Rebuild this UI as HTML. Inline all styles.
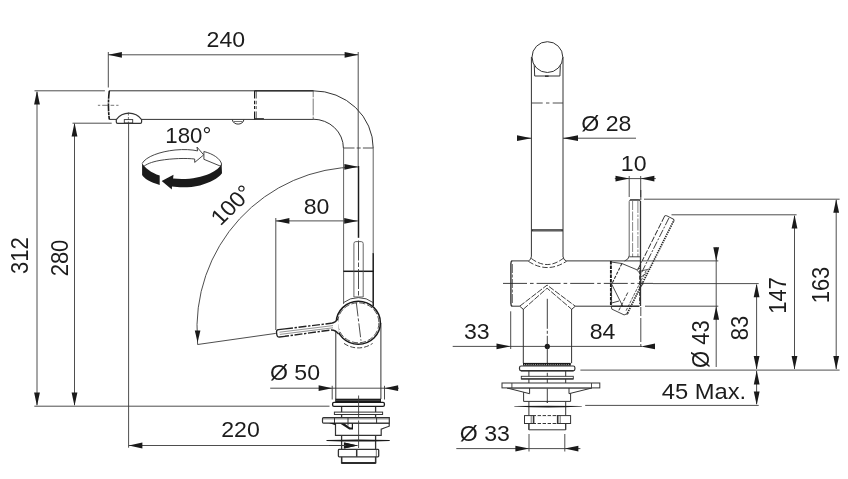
<!DOCTYPE html>
<html><head><meta charset="utf-8"><title>Faucet drawing</title>
<style>
html,body{margin:0;padding:0;background:#fff;}
svg{display:block;will-change:transform;opacity:0.9999}
text{font-family:"Liberation Sans",sans-serif;font-size:22px;fill:#1c1c1c}
.d{stroke:#3a3a3a;stroke-width:0.9;fill:none}
.o{stroke:#333;stroke-width:1;fill:none}
.k{stroke:#1a1a1a;stroke-width:1.8;fill:none}
.a{fill:#1a1a1a;stroke:none}
.dd{stroke:#2a2a2a;stroke-width:0.9;fill:none;stroke-dasharray:5 1.5 1.5 1.5}
.ds{stroke:#2a2a2a;stroke-width:0.9;fill:none;stroke-dasharray:3 1.5}
</style></head><body>
<svg width="848" height="479" viewBox="0 0 848 479">
<rect width="848" height="479" style="fill:#fff"/>

<!-- ================= LEFT VIEW ================= -->
<g id="left-dims">
<!-- 240 -->
<line class="d" x1="108.3" y1="54.8" x2="358.2" y2="54.8"/>
<polygon class="a" points="108.3,54.8 121.9,57.7 121.9,51.9"/>
<polygon class="a" points="358.2,54.8 344.6,51.9 344.6,57.7"/>
<line class="d" x1="108.3" y1="52" x2="108.3" y2="87.5"/>
<line class="d" x1="358.2" y1="52" x2="358.2" y2="166"/>
<text transform="translate(225.8,46.5) scale(1.05,1)" text-anchor="middle">240</text>
<!-- 312 -->
<line class="d" x1="34.5" y1="90.8" x2="104.9" y2="90.8"/>
<line class="d" x1="37" y1="92" x2="37" y2="405"/>
<polygon class="a" points="37.0,90.8 34.1,104.4 39.9,104.4"/>
<polygon class="a" points="37.0,406.0 39.9,392.4 34.1,392.4"/>
<text transform="translate(28.4,255.6) scale(1.05,1) rotate(-90)" text-anchor="middle">312</text>
<!-- 280 -->
<line class="d" x1="72.5" y1="123.2" x2="111.7" y2="123.2"/>
<line class="d" x1="74.5" y1="124" x2="74.5" y2="405"/>
<polygon class="a" points="74.5,122.8 71.6,136.4 77.4,136.4"/>
<polygon class="a" points="74.5,406.0 77.4,392.4 71.6,392.4"/>
<text transform="translate(67.8,258) scale(1.05,1) rotate(-90)" text-anchor="middle">280</text>
<!-- base line -->
<line class="d" x1="34.3" y1="406.2" x2="329.5" y2="406.2"/>
<!-- 220 -->
<line class="d" x1="128.6" y1="124" x2="128.6" y2="447.7"/>
<line class="d" x1="128.8" y1="445.5" x2="357.5" y2="445.5"/>
<polygon class="a" points="128.8,445.5 142.4,448.4 142.4,442.6"/>
<polygon class="a" points="357.5,445.5 343.9,442.6 343.9,448.4"/>
<text transform="translate(240.5,437.3) scale(1.05,1)" text-anchor="middle">220</text>
<!-- 80 -->
<line class="d" x1="275.8" y1="220.9" x2="357.8" y2="220.9"/>
<polygon class="a" points="275.8,220.9 289.4,223.8 289.4,218.0"/>
<polygon class="a" points="357.8,220.9 344.2,218.0 344.2,223.8"/>
<line class="d" x1="275.8" y1="218" x2="275.8" y2="330"/>
<text transform="translate(316.5,213.8) scale(1.05,1)" text-anchor="middle">80</text>
<!-- O50 -->
<line class="d" x1="270.2" y1="388.2" x2="398.8" y2="388.2"/>
<polygon class="a" points="332.2,388.2 318.6,385.3 318.6,391.1"/>
<polygon class="a" points="384.5,388.2 398.1,391.1 398.1,385.3"/>
<line class="d" x1="332.2" y1="385.8" x2="332.2" y2="399.5"/>
<line class="d" x1="384.5" y1="385.8" x2="384.5" y2="399.5"/>
<text transform="translate(295,380) scale(1.05,1)" text-anchor="middle">Ø 50</text>
<!-- 100 deg arc -->
<path class="d" d="M358,167 A161 161 0 0 0 197.5,341 L197.6,344.5"/>
<polygon class="a" points="358.0,166.8 344.4,163.9 344.4,169.7"/>
<polygon class="a" points="197.6,342.4 200.4,330.4 194.8,330.4"/>
<line class="d" x1="197.6" y1="344.5" x2="275.8" y2="333.4"/>
<text transform="translate(237.2,210.2) scale(1.05,1) rotate(-46)" text-anchor="middle">100°</text>
<!-- 180 deg -->
<text transform="translate(188.3,142.9) scale(1.01,1)" text-anchor="middle">180°</text>
</g>

<g id="rot-icon">
<!-- back (white) half with arrow -->
<path class="o" style="stroke-width:0.9;fill:#fff" d="M142.1,163.5 C 146,156.5 160,151.6 175,150 C 184,149.1 192,149.6 197.6,150.9 L197,147.1 L203.7,154.9 L194.7,162.4 L194.7,159 C 186,158 172,158.4 160,160.4 C 151,162 146,164.4 143,167"/>
<path class="o" style="stroke-width:0.9;fill:#fff" d="M203.9,159.3 L203.9,151.5 C 213,153.8 220.2,158.5 221.6,164 L220.6,166.2 Z"/>
<!-- front (black) band -->
<path class="a" d="M142.1,163.2 C 145,168 151,172.6 159.7,175.6 L159.7,185 C 150,182 144,178.5 142.1,175 Z"/>
<path class="a" d="M161.7,181.1 L173.5,174.8 L173.1,178.5 C 186,180 200,178 210,173.5 C 216,170.6 220,167.6 221.6,164 L222,173.3 C 218,178.6 210,182.6 200,185.4 C 191,187.6 180,187.8 172,186.5 L171.8,189.4 Z"/>
</g>

<g id="left-faucet">
<!-- spout -->
<line class="o" x1="109" y1="90.8" x2="313" y2="90.8"/>
<path class="o" d="M141.5,119.4 L313,119.4 M109.2,119.4 L116.4,119.4"/>
<path d="M109.3,90.8 Q107.6,105 109.3,119.4" style="stroke:#1a1a1a;stroke-width:1.6;stroke-dasharray:8 0.8 3 0.8;fill:none"/>
<line class="d" x1="97.9" y1="105.3" x2="118.5" y2="105.3" style="stroke-width:0.7;stroke-dasharray:2.3 2 6.4 2 3.6 2 2.3 0"/>
<!-- aerator -->
<path class="o" style="fill:#fff;stroke-width:1.2" d="M116.3,119.6 A 15.7 15.7 0 0 1 141.6,119.6 L141.6,122 Q141.6,123.3 140.3,123.3 L117.6,123.3 Q116.3,123.3 116.3,122 Z"/>
<rect class="o" x="124.3" y="119.6" width="8.4" height="3.4" style="stroke-width:0.9"/>
<line class="d" x1="128.4" y1="112.5" x2="128.4" y2="123.5" style="stroke-width:0.7;stroke-dasharray:3 1.5"/>
<!-- section lines -->
<line x1="254.6" y1="90.8" x2="254.6" y2="119.4" style="stroke:#1a1a1a;stroke-width:1.2;stroke-dasharray:7.7 2.3 3.5 1.8 3 2.3 8 0;fill:none"/>
<line x1="256.3" y1="90.8" x2="256.3" y2="119.4" style="stroke:#444;stroke-width:0.8;stroke-dasharray:7.7 2.3 3.5 1.8 3 2.3 8 0;fill:none"/>
<line class="o" x1="254.5" y1="118.7" x2="263.9" y2="118.7" style="stroke-width:1.2"/>
<line class="o" x1="254.5" y1="90.8" x2="313.4" y2="90.8" style="stroke-width:1.4"/>
<line x1="313.2" y1="90.8" x2="313.2" y2="119.4" style="stroke:#555;stroke-width:0.8;stroke-dasharray:6.5 1.2 17 1.2;fill:none"/>
<!-- button -->
<path class="o" d="M232.3,119.6 C 233,125.6 243.2,125.6 243.9,119.6" style="stroke-width:1"/>
<line class="d" x1="233.6" y1="121.5" x2="242.6" y2="121.5" style="stroke-width:0.7"/>
<!-- bend -->
<path class="o" d="M313,90.8 A 60.2 57.2 0 0 1 373.2,148"/>
<path class="o" d="M313,119.2 A 30.4 28.8 0 0 1 343.4,148"/>
<line class="d" x1="343.5" y1="148" x2="373.2" y2="148" style="stroke-dasharray:11 2.2 4 2.2 11"/>
<!-- vertical tube -->
<line x1="343.6" y1="148" x2="343.6" y2="304" style="stroke:#505050;stroke-width:0.9;fill:none"/>
<line x1="373.2" y1="148" x2="373.2" y2="254" style="stroke:#505050;stroke-width:0.9;fill:none"/>
<line class="k" x1="343.4" y1="271.3" x2="373.6" y2="271.3" style="stroke-width:1.5"/>
<line class="k" x1="373.2" y1="253.2" x2="373.2" y2="306" style="stroke-width:1.5"/>
<!-- centre line thick + dash -->
<line class="k" x1="358.5" y1="166" x2="358.5" y2="237.8" style="stroke-width:1.5"/>
<line class="d" x1="358.5" y1="240.5" x2="358.5" y2="296" style="stroke-dasharray:20 2 4.5 2"/>
<!-- upright lever -->
<path d="M353.9,297 L353.9,243.6 Q353.9,241.6 355.9,241.6 L361.2,241.6 Q363.2,241.6 363.2,243.6 L363.2,297" style="stroke:#555;stroke-width:0.9;fill:none"/>
<path d="M353.9,296.9 L363.2,296.9" style="stroke:#555;stroke-width:0.8;fill:none"/>
<!-- outer arcs (body/sphere intersection) -->
<path class="o" d="M343.5,302.6 A 24.6 24.6 0 0 1 373.2,302.6" style="stroke-width:0.9"/>
<path class="ds" d="M344,343.4 A 24.9 24.9 0 0 0 372.6,343.4" style="stroke-dasharray:5 2"/>
<!-- lower body -->
<line class="o" x1="335.8" y1="328" x2="335.8" y2="399"/>
<line class="o" x1="380.9" y1="323" x2="380.9" y2="399"/>
<!-- circle -->
<ellipse class="k" cx="358.3" cy="322.8" rx="22.1" ry="21.5" style="stroke-width:1.5;fill:#fff"/>
<ellipse class="ds" cx="358.3" cy="322.8" rx="20.6" ry="20" style="stroke-dasharray:6 2;stroke-width:0.8"/>
<line class="d" x1="356.3" y1="302.5" x2="361" y2="340.7" style="stroke-dasharray:14 2 3 2"/>
<!-- horizontal lever -->
<path d="M338,318.5 Q336,322.4 331,323.3 L278.5,329.7 Q276.3,330 276.5,332.2 L276.9,335.2 Q277.2,337.3 279.4,337 L331,330 Q336,329.6 339,334.5 Z" style="fill:#fff;stroke:none"/>
<path class="o" d="M285,328.9 L278.5,329.7 Q276.3,330 276.5,332.2 L276.9,335.2 Q277.2,337.3 279.4,337 L285,336.3" style="stroke-width:1.3;stroke:#222"/>
<path d="M285,328.9 L331,323.3" style="stroke:#222;stroke-width:1.4;stroke-dasharray:8 1.6 2.4 1.6;fill:none"/>
<path d="M285,336.3 L331,330" style="stroke:#222;stroke-width:1.4;stroke-dasharray:8 1.6 2.4 1.6;stroke-dashoffset:4;fill:none"/>
<path class="o" d="M331,323.3 Q335.6,322.6 338,318.6 M331,330 Q335.6,329.8 338.6,334.2" style="stroke-width:1.3;stroke:#222"/>
<path d="M279.5,332.2 L333,325.6 M279.8,334.4 L333,327.8" style="stroke:#666;stroke-width:0.7;fill:none"/>
<!-- base ring -->
<rect class="a" x="335.2" y="398.7" width="45.8" height="3.3"/>
<line x1="336" y1="400.4" x2="380.4" y2="400.4" stroke="#777" stroke-width="0.5"/>
<rect class="k" x="332.6" y="402.4" width="51.8" height="4" rx="1.4" style="fill:#fff;stroke-width:1.3"/>
<!-- neck -->
<line class="o" x1="341.6" y1="407" x2="341.6" y2="463" style="stroke-width:1.3"/>
<line class="o" x1="375.6" y1="407" x2="375.6" y2="463" style="stroke-width:1.3"/>
<rect class="o" x="334.4" y="412.1" width="48.2" height="2.4" style="fill:#fff;stroke-width:1"/>
<!-- body under plate -->
<path class="o" style="fill:#fff;stroke-width:1.2" d="M335.5,423.1 L335.5,435.4 L381.2,435.4 L381.2,429.2 L384.2,428 L389.2,426.2 L389.2,423.1 Z"/>
<!-- plate -->
<path class="o" style="fill:#fff;stroke-width:1.2" d="M323.5,417.7 L389.3,417.7 L389.3,423.1 L323.5,423.1 Q322.5,423.1 322.5,422 L322.5,418.8 Q322.5,417.7 323.5,417.7 Z"/>
<line class="d" x1="323" y1="418.9" x2="389" y2="418.9" style="stroke-width:0.6"/>
<line class="o" x1="334.5" y1="418" x2="334.5" y2="423.1"/>
<line class="o" x1="348" y1="418" x2="348" y2="425.5"/>
<line class="o" x1="376.6" y1="418" x2="376.6" y2="423.1"/>
<path class="a" d="M329,423.1 L335.5,423.1 L335.5,425.2 Z"/>
<path class="a" d="M340,423.4 L344.5,423.4 L350,427.6 L351.8,427.6 L351.8,423.4 L353,423.4 L353,429.4 L349.3,429.4 Z"/>
<!-- washer -->
<path class="a" d="M326.5,440.1 Q358,438.9 389.7,440.1 L389.7,440.9 Q358,442.3 326.5,440.9 Z"/>
<!-- nut -->
<path class="o" d="M341.6,456.9 L341.6,463 L375.6,463 L375.6,456.9" style="stroke-width:1.3"/>
<line class="k" x1="341.6" y1="463" x2="375.6" y2="463" style="stroke-width:1.5"/>
<rect class="o" x="338.4" y="449.4" width="40.3" height="7.4" rx="0.8" style="fill:#fff;stroke-width:1.3"/>
<line class="o" x1="356.7" y1="449.4" x2="356.7" y2="456.8" style="stroke-width:1.5"/>
<line class="d" x1="376.3" y1="449.4" x2="376.3" y2="456.8" style="stroke-width:0.7"/>
<!-- centre line -->
<line class="d" x1="358.6" y1="395.5" x2="358.6" y2="417.5"/>
<line class="d" x1="358.6" y1="420.5" x2="358.6" y2="448"/>
</g>

<polygon class="a" points="357.9,445.5 344.3,442.6 344.3,448.4"/>
<line class="d" x1="329" y1="445.5" x2="346" y2="445.5"/>
<!-- ================= RIGHT VIEW ================= -->
<g id="right-dims">
<!-- O28 -->
<line class="d" x1="517" y1="138.2" x2="531.5" y2="138.2"/>
<line class="d" x1="563" y1="138.2" x2="636" y2="138.2"/>
<polygon class="a" points="531.5,138.2 517.0,135.3 517.0,141.1"/>
<polygon class="a" points="563.0,138.2 578.0,141.1 578.0,135.3"/>
<text transform="translate(606.3,130.6) scale(1.05,1)" text-anchor="middle">Ø 28</text>
<!-- 10 -->
<line class="d" x1="614.8" y1="178.6" x2="655.8" y2="178.6"/>
<polygon class="a" points="629.2,178.6 615.5,175.7 615.5,181.5"/>
<polygon class="a" points="640.7,178.6 654.4,181.5 654.4,175.7"/>
<line class="d" x1="629.2" y1="176" x2="629.2" y2="197"/>
<line class="d" x1="640.7" y1="176" x2="640.7" y2="197"/>
<text transform="translate(633.7,171) scale(1.05,1)" text-anchor="middle">10</text>
<!-- 33 / 84 -->
<line class="d" x1="452.7" y1="346.4" x2="642" y2="346.4"/>
<polygon class="a" points="510.2,346.4 496.5,343.5 496.5,349.3"/>
<polygon class="a" points="641.0,346.4 655.0,349.3 655.0,343.5"/>
<line class="d" x1="510.7" y1="311.3" x2="510.7" y2="349"/>
<circle class="a" cx="547.3" cy="346.4" r="2.6"/>
<text transform="translate(476.8,338.7) scale(1.05,1)" text-anchor="middle">33</text>
<text transform="translate(602.5,338.6) scale(1.05,1)" text-anchor="middle">84</text>
<!-- vertical ext at lever (84) -->
<line class="dd" x1="640.8" y1="190" x2="640.8" y2="200" style="stroke-dasharray:14 2 3 2"/>
<line class="d" x1="640.8" y1="307" x2="640.8" y2="348.4" style="stroke-dasharray:9 2 24 2 3 2"/>
<!-- 163 -->
<line class="d" x1="644" y1="199.2" x2="839.6" y2="199.2"/>
<line class="d" x1="836.2" y1="200" x2="836.2" y2="369"/>
<polygon class="a" points="836.2,199.2 833.3,212.8 839.1,212.8"/>
<polygon class="a" points="836.2,369.6 839.1,356.0 833.3,356.0"/>
<text transform="translate(829.1,285) scale(1.05,1) rotate(-90)" text-anchor="middle">163</text>
<!-- 147 -->
<line class="d" x1="671.5" y1="214.8" x2="796.6" y2="214.8"/>
<line class="d" x1="794.5" y1="216" x2="794.5" y2="369"/>
<polygon class="a" points="794.5,214.8 791.6,228.4 797.4,228.4"/>
<polygon class="a" points="794.5,369.6 797.4,356.0 791.6,356.0"/>
<text transform="translate(786,295.5) scale(1.05,1) rotate(-90)" text-anchor="middle">147</text>
<!-- 83 -->
<line class="d" x1="653" y1="283.6" x2="758.7" y2="283.6"/>
<line class="d" x1="756.6" y1="285" x2="756.6" y2="369"/>
<polygon class="a" points="756.6,283.6 753.7,297.2 759.5,297.2"/>
<polygon class="a" points="756.6,369.6 759.5,356.0 753.7,356.0"/>
<text transform="translate(748,328) scale(1.05,1) rotate(-90)" text-anchor="middle">83</text>
<!-- O43 -->
<line class="d" x1="643" y1="260.9" x2="718.3" y2="260.9"/>
<line class="d" x1="645" y1="306.2" x2="718.3" y2="306.2"/>
<line class="d" x1="716.2" y1="247.4" x2="716.2" y2="367"/>
<polygon class="a" points="716.2,260.9 719.1,247.3 713.3,247.3"/>
<polygon class="a" points="716.2,306.2 713.3,319.8 719.1,319.8"/>
<text transform="translate(709.4,344.1) scale(1.05,1) rotate(-90)" text-anchor="middle">Ø 43</text>
<!-- base line -->
<line class="d" x1="580.4" y1="370.1" x2="839.6" y2="370.1"/>
<!-- 45 max -->
<line class="d" x1="585.2" y1="405.4" x2="758.7" y2="405.4"/>
<line class="d" x1="756.6" y1="371" x2="756.6" y2="404"/>
<polygon class="a" points="756.7,370.6 753.8,384.6 759.6,384.6"/>
<polygon class="a" points="756.7,405.0 759.6,391.4 753.8,391.4"/>
<text transform="translate(704,398.5) scale(1.08,1)" text-anchor="middle">45 Max.</text>
<!-- O33 -->
<line class="d" x1="456.3" y1="448.6" x2="580.4" y2="448.6"/>
<polygon class="a" points="529.0,448.6 515.4,445.7 515.4,451.5"/>
<polygon class="a" points="564.8,448.6 578.4,451.5 578.4,445.7"/>
<line class="d" x1="529" y1="434" x2="529" y2="451.5"/>
<line class="d" x1="564.8" y1="434" x2="564.8" y2="451.5"/>
<text transform="translate(484.9,440.7) scale(1.05,1)" text-anchor="middle">Ø 33</text>
</g>

<g id="right-faucet">
<!-- spout head -->
<line class="o" x1="531.4" y1="57" x2="531.4" y2="256.6"/>
<line class="o" x1="563" y1="57" x2="563" y2="256.6"/>
<path class="o" d="M534.2,64 L534.7,76 L559.9,76 L560.4,64"/>
<line class="o" x1="545" y1="76.2" x2="548.6" y2="76.2" style="stroke-width:1.5"/>
<circle class="o" cx="547.4" cy="57.1" r="15.4" style="fill:#fff"/>
<line class="d" x1="531.4" y1="103" x2="563" y2="103" style="stroke-dasharray:11.3 3.3 3.4 3.3 11"/>
<line x1="531.4" y1="230.3" x2="563" y2="230.3" style="stroke:#3a3a3a;stroke-width:2.3;fill:none"/>
<line x1="533" y1="230.3" x2="561.5" y2="230.3" style="stroke:#999;stroke-width:0.5;fill:none"/>
<!-- saddle -->
<path class="o" d="M531.4,256.4 Q531.3,259.8 528.2,261.1 M563,256.4 Q563.1,259.8 566.5,261.1"/>
<path class="ds" d="M528.4,261.3 Q547.1,273.8 566.5,261.3" style="stroke-dasharray:5.5 2"/>
<path class="ds" d="M531.4,258.5 Q547.1,270.6 563,258.5" style="stroke-dasharray:5.5 2"/>
<!-- horizontal body -->
<line class="o" x1="511.5" y1="260.9" x2="528.2" y2="260.9"/>
<line class="o" x1="566.4" y1="260.9" x2="640" y2="260.9"/>
<path class="o" d="M512.2,260.9 Q510.9,261.3 510.9,263.5 L510.9,303.5 Q510.9,305.8 512.2,306.2" style="stroke-width:1.4"/>
<line class="ds" x1="512.4" y1="264" x2="512.4" y2="303" style="stroke-width:0.7;stroke-dasharray:9 1.5 3 1.5"/>
<line class="o" x1="511.5" y1="306.2" x2="519.7" y2="306.2"/>
<line class="o" x1="575.3" y1="306.2" x2="611" y2="306.2"/>
<!-- centre line -->
<line class="dd" x1="503" y1="283.4" x2="653" y2="283.4" style="stroke-dasharray:24 3 3.6 3"/>
<!-- V -->
<path class="ds" d="M519.7,306.2 L547.1,285.1 L575.3,306.2" style="stroke-dasharray:6 1.4"/>
<path class="ds" d="M523.4,309.2 L547.1,288.2 L571.6,309.2" style="stroke-dasharray:6 1.4"/>
<path class="o" d="M519.7,306.2 L523.4,309.4 M575.3,306.2 L571.6,309.4"/>
<!-- lower tube -->
<line class="o" x1="523.3" y1="309" x2="523.3" y2="363.2"/>
<line class="o" x1="571.6" y1="309" x2="571.6" y2="363.2"/>
<line class="dd" x1="547.3" y1="298.8" x2="547.3" y2="402.8" style="stroke-dasharray:30 2 3 2"/>
<!-- ring -->
<rect class="a" x="523" y="362.9" width="47.8" height="2.8"/>
<line x1="524" y1="364.6" x2="570" y2="364.6" style="stroke:#fff;stroke-width:0.6;stroke-dasharray:1 1.2;fill:none"/>
<rect class="o" x="519.5" y="366" width="55.4" height="4.8" rx="1.7" style="fill:#fff;stroke-width:1.2"/>
<line class="o" x1="521" y1="370.6" x2="573.5" y2="370.6" style="stroke-width:1.3"/>
<!-- neck -->
<line class="o" x1="528.9" y1="371" x2="528.9" y2="429.8"/>
<line class="o" x1="565.7" y1="371" x2="565.7" y2="429.8"/>
<rect class="o" x="521.3" y="376.3" width="52" height="2.7" style="fill:#fff;stroke-width:0.9"/>
<line class="o" x1="521.3" y1="378.9" x2="573.3" y2="378.9" style="stroke-width:1.2"/>
<!-- plate -->
<path class="o" style="fill:#fff" d="M523.6,388 L523.6,401.4 L570.6,401.4 L570.6,388 Z"/>
<path class="o" style="fill:#fff" d="M507.1,388 L529.6,393.7 L529.6,389 L529.6,388 Z M591.8,388 L569,393.7 L569,388 Z"/>
<rect class="o" x="502" y="383" width="97.8" height="4.9" style="fill:#fff"/>
<line class="d" x1="511.9" y1="383" x2="511.9" y2="388"/>
<line class="d" x1="591.5" y1="383" x2="591.5" y2="388"/>
<!-- washer -->
<path class="a" d="M514.3,405.9 Q548,405.4 581.8,405.9 L581.8,406.4 Q548,408.5 514.3,406.4 Z"/>
<!-- nut -->
<path class="o" d="M528.9,423.4 L528.9,429.8 L565.7,429.8 L565.7,423.4"/>
<rect class="o" x="524.5" y="415.6" width="46.1" height="7.9" style="fill:#fff"/>
<path class="o" d="M533.6,415.6 L533.6,423.5 M557.7,415.6 L557.7,423.5" style="stroke-width:1.6"/>
<path class="d" d="M531.2,415.6 L531.2,423.5 M560.2,415.6 L560.2,423.5" style="stroke-width:0.7"/>
<path d="M535,415.6 L556.6,415.6 M535,423.5 L556.6,423.5" style="stroke:#fff;stroke-width:1.8;stroke-dasharray:1.6 3.4;stroke-dashoffset:-1;fill:none"/>
<line class="dd" x1="547.3" y1="388.5" x2="547.3" y2="403" style="stroke-dasharray:30 2 3 2"/>
<!-- upright lever -->
<path d="M629.2,256 L629.2,201.5 Q629.2,199.8 631,199.8 L638.6,199.8 Q640.4,199.8 640.4,201.5" style="stroke:#555;stroke-width:0.9;fill:none"/>
<line class="o" x1="630" y1="200" x2="640" y2="200" style="stroke-width:1.3"/>
<line class="o" x1="640.5" y1="201" x2="640.5" y2="306" style="stroke-width:1.3"/>
<line x1="632.6" y1="201" x2="632.6" y2="257" style="stroke:#666;stroke-width:0.8;stroke-dasharray:9 1.5;fill:none"/>
<line x1="637.9" y1="201" x2="637.9" y2="257" style="stroke:#666;stroke-width:0.8;stroke-dasharray:12 1.5 2.5 1.5;fill:none"/>
<path class="o" d="M629.2,255.8 Q628.8,259.6 624.5,261 M629.2,256.8 L640.5,256.8" style="stroke-width:0.9"/>
<!-- tilted lever -->
<g transform="translate(669.9,217.4) rotate(26.6)">
<path class="o" d="M-5.3,2 Q-5.3,0 -3.3,0 L3.3,0 Q5.3,0 5.3,2" style="stroke-width:0.9"/>
<line class="ds" x1="-5.3" y1="1.5" x2="-5.3" y2="62" style="stroke-width:0.9;stroke-dasharray:6 1.6"/>
<line class="ds" x1="-4" y1="86" x2="-4" y2="106" style="stroke-width:0.8;stroke-dasharray:4 1.6"/>
<line class="ds" x1="-0.6" y1="1" x2="-0.6" y2="66" style="stroke-width:0.8;stroke-dasharray:8 1.6 2 1.6"/>
<line x1="4.9" y1="2" x2="4.9" y2="106" style="stroke:#2a2a2a;stroke-width:1.7;stroke-dasharray:1.4 0.9;fill:none"/>
<line class="ds" x1="2.6" y1="58" x2="2.6" y2="104" style="stroke-width:0.7;stroke-dasharray:3 1.2"/>
</g>
<!-- cartridge -->
<line x1="610.9" y1="261" x2="610.9" y2="306.2" style="stroke:#1a1a1a;stroke-width:1.9;stroke-dasharray:3.6 0.9;fill:none"/>
<path class="o" d="M611,262 L621.9,263.5 L636.5,269.6 L640.3,268.3" style="stroke-width:0.9"/>
<path class="o" d="M611.7,284.2 L622.7,306.1" style="stroke-width:0.9"/>
<line class="k" x1="611" y1="306.2" x2="639.5" y2="306.2" style="stroke-width:1.4"/>
<line class="ds" x1="639.6" y1="270.3" x2="639.6" y2="304" style="stroke-width:0.9;stroke-dasharray:4 1.4"/>
<path class="ds" d="M621.9,263.5 L612.4,282.8" style="stroke-width:1.1;stroke-dasharray:3.2 1.4"/>
<path class="ds" d="M611.6,286 L611.6,303" style="stroke-width:0.8;stroke-dasharray:3 1.4"/>
<path class="o" d="M611,303.2 L619,301 M611.3,306.2 L611.8,309.1 L624.1,314.9 L628.6,313.2" style="stroke-width:0.9"/>
<path class="o" d="M636.5,269.6 L640,273.5 M641,271 L648.5,269.2 M641,277 L646.5,273.2" style="stroke-width:0.8"/>
<circle class="o" cx="641.6" cy="283.6" r="1.5" style="stroke-width:0.8"/>
</g>
</svg>
</body></html>
